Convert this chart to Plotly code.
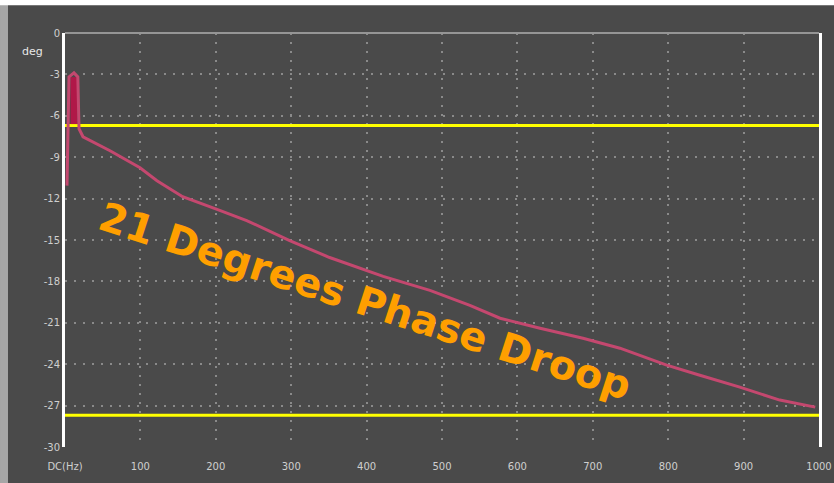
import plotly.graph_objects as go

# Frequency axis (Hz) and tick labels
x_ticks = [0, 100, 200, 300, 400, 500, 600, 700, 800, 900, 1000]
x_labels = ["DC(Hz)", "100", "200", "300", "400", "500", "600", "700", "800", "900", "1000"]

# Phase axis (degrees)
y_ticks = [0, -3, -6, -9, -12, -15, -18, -21, -24, -27, -30]
y_labels = ["0", "-3", "-6", "-9", "-12", "-15", "-18", "-21", "-24", "-27", "-30"]

# Measured phase response
freq = [2.65, 5.3, 11.9, 17.0, 18.6, 23.9, 59.7, 99.5, 122, 156, 199, 241, 298, 351,
        422, 484, 537, 577, 630, 687, 736, 798, 842, 895, 948, 995]
phase = [-11.06, -3.18, -2.89, -3.18, -6.94, -7.52, -8.53, -9.76, -10.70, -11.86,
         -12.72, -13.59, -15.04, -16.27, -17.64, -18.65, -19.73, -20.67, -21.40,
         -22.12, -22.84, -24.07, -24.80, -25.66, -26.60, -27.11]

# Low-frequency settling burst
burst_freq = [11.9, 11.9]
burst_phase = [-3.2, -6.6]

# Phase droop reference levels (21 degrees apart)
droop_top = -6.7
droop_bottom = -27.7
droop_text = "21 Degrees Phase Droop"

BG = "#4a4a4a"
GRID = "#8a8a8a"

fig = go.Figure()

for level in (droop_top, droop_bottom):
    fig.add_trace(go.Scatter(
        x=[0, 1000], y=[level, level], mode="lines",
        line=dict(color="#ffff00", width=3), hoverinfo="skip", showlegend=False))

fig.add_trace(go.Scatter(
    x=burst_freq, y=burst_phase, mode="lines",
    line=dict(color="#b01848", width=7), showlegend=False))

fig.add_trace(go.Scatter(
    x=freq, y=phase, mode="lines",
    line=dict(color="#c4486f", width=3), showlegend=False))

fig.add_annotation(
    x=398, y=-19.4, xref="x", yref="y", text="<b>" + droop_text + "</b>", showarrow=False,
    textangle=18, font=dict(family="DejaVu Sans", size=40, color="#ff9f00"),
    xanchor="center", yanchor="middle")

fig.add_annotation(
    x=-0.043, y=0.955, xref="paper", yref="paper", text="deg", showarrow=False,
    font=dict(family="DejaVu Sans", size=11, color="#e8e8e8"),
    xanchor="center", yanchor="middle")

# frame decorations: top border, light strip at left, white band at top
fig.add_shape(type="line", xref="paper", yref="paper", x0=0, x1=1, y0=1, y1=1,
              line=dict(color="#959595", width=2))
fig.add_shape(type="rect", xref="paper", yref="paper", x0=-0.0862, x1=-0.0756,
              y0=-0.09, y1=1.08, line=dict(width=0), fillcolor="#a6a6a6", layer="below")
fig.add_shape(type="rect", xref="paper", yref="paper", x0=-0.09, x1=1.03,
              y0=1.067, y1=1.085, line=dict(width=0), fillcolor="#ffffff", layer="below")

fig.update_xaxes(
    range=[0, 1000], tickvals=x_ticks, ticktext=x_labels, automargin=False,
    showgrid=True, gridcolor=GRID, gridwidth=2, griddash="2px,7px",
    zeroline=False, showline=False, ticks="", ticklabelstandoff=12,
    tickfont=dict(family="DejaVu Sans", size=10, color="#cfcfcf"))
fig.update_yaxes(
    range=[-30, 0], tickvals=y_ticks, ticktext=y_labels, automargin=False,
    showgrid=True, gridcolor=GRID, gridwidth=2, griddash="2px,7px",
    zeroline=False, showline=True, linecolor="#ffffff", linewidth=3, mirror=True,
    ticks="", tickfont=dict(family="DejaVu Sans", size=10, color="#cfcfcf"))

fig.update_layout(
    width=834, height=483,
    margin=dict(l=65, r=15, t=33, b=36),
    paper_bgcolor=BG, plot_bgcolor=BG,
    showlegend=False)

fig.write_html("out.html")
